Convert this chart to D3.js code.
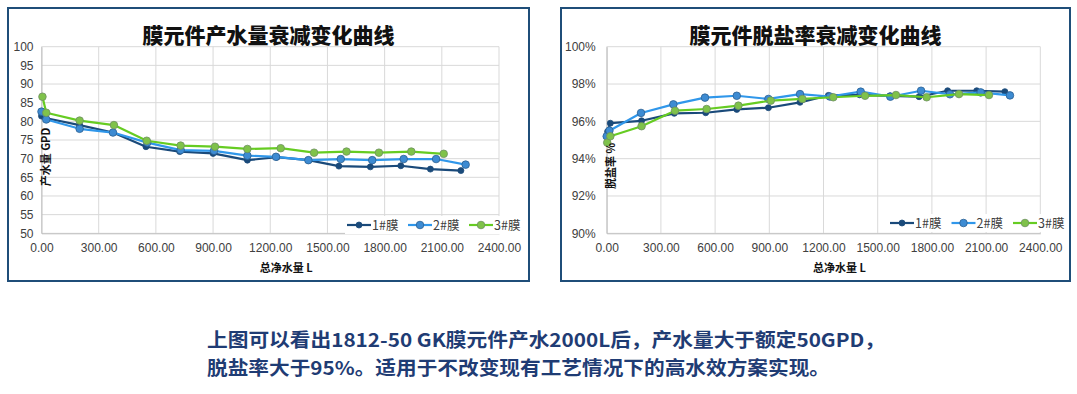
<!DOCTYPE html>
<html>
<head>
<meta charset="utf-8">
<script src="https://cdn.jsdelivr.net/npm/d3@7"></script>
<style>
body{margin:0;background:#fff;}
svg{display:block;}
</style>
</head>
<body>
<div id="chart"></div>
<script>
// 产水量 (GPD) - left chart
var flowX1 = [0, 20, 200, 375, 548, 725, 900, 1080, 1235, 1400, 1560, 1725, 1885, 2040, 2200];
var flowY1 = [81.4, 80.9, 79.0, 77.0, 73.2, 71.9, 71.4, 69.6, 70.4, 69.6, 68.0, 67.8, 68.1, 67.2, 66.8];
var flowX2 = [0, 25, 200, 375, 555, 730, 905, 1080, 1230, 1400, 1570, 1735, 1900, 2070, 2225];
var flowY2 = [82.6, 80.5, 78.0, 77.0, 74.3, 72.3, 72.1, 70.8, 70.5, 69.6, 69.9, 69.6, 69.9, 69.9, 68.4];
var flowX3 = [5, 25, 200, 380, 552, 730, 910, 1080, 1255, 1430, 1600, 1770, 1940, 2110];
var flowY3 = [86.6, 82.3, 80.2, 79.0, 74.8, 73.5, 73.2, 72.6, 72.8, 71.6, 71.9, 71.6, 71.9, 71.3];

// 脱盐率 (%) - right chart
var rejX1 = [5, 20, 193, 374, 548, 720, 895, 1070, 1227, 1400, 1568, 1729, 1887, 2048, 2204];
var rejY1 = [95.45, 95.9, 96.03, 96.43, 96.46, 96.64, 96.73, 97.02, 97.39, 97.42, 97.37, 97.32, 97.64, 97.64, 97.59];
var rejX2 = [0, 15, 190, 369, 544, 720, 895, 1070, 1235, 1406, 1570, 1740, 1900, 2070, 2232];
var rejY2 = [95.2, 95.5, 96.45, 96.91, 97.27, 97.37, 97.2, 97.46, 97.33, 97.59, 97.32, 97.64, 97.45, 97.55, 97.39];
var rejX3 = [3, 20, 193, 378, 553, 729, 908, 1083, 1254, 1430, 1601, 1771, 1950, 2116];
var rejY3 = [94.86, 95.2, 95.74, 96.57, 96.66, 96.84, 97.11, 97.2, 97.29, 97.37, 97.41, 97.29, 97.46, 97.41];

var seriesNames = ["1#膜", "2#膜", "3#膜"];
var xTicks = [0, 300, 600, 900, 1200, 1500, 1800, 2100, 2400];
var flowTicks = [50, 55, 60, 65, 70, 75, 80, 85, 90, 95, 100];
var rejTicks = [90, 92, 94, 96, 98, 100];

var caption1 = "上图可以看出1812-50 GK膜元件产水2000L后，产水量大于额定50GPD，";
var caption2 = "脱盐率大于95%。适用于不改变现有工艺情况下的高水效方案实现。";

var lineColors = ["#1a4a7a", "#3097ea", "#66cc22"];
var dotFill = ["#1a4a7a", "#3d8bd2", "#7fc24a"];
var dotStroke = ["#1a4a7a", "#2b5f92", "#6f8f62"];
var dotR = [3, 3.8, 3.8];

var W = 1077, H = 394;
var svg = d3.select("#chart").append("svg").attr("width", W).attr("height", H);
svg.append("rect").attr("width", W).attr("height", H).attr("fill", "#fff");

function zip(xs, ys){
    var out = [];
    for (var i = 0; i < xs.length; i++) out.push({x: xs[i], y: ys[i]});
    return out;
}

function drawChart(o){
    var g = svg.append("g");
    // outer frame
    g.append("rect").attr("x", o.box[0]).attr("y", o.box[1])
        .attr("width", o.box[2]).attr("height", o.box[3])
        .attr("fill", "#fff").attr("stroke", "#1f4e79").attr("stroke-width", 2);

    g.append("text").attr("x", o.box[0] + o.box[2] / 2).attr("y", 43)
        .attr("text-anchor", "middle")
        .style("font-family", "'Noto Sans CJK SC', sans-serif")
        .style("font-weight", "900").style("font-size", "21px").style("fill", "#111")
        .text(o.title);

    var x = d3.scaleLinear().domain([0, 2400]).range([o.plot[0], o.plot[1]]);
    var y = d3.scaleLinear().domain(o.yDomain).range([o.plot[3], o.plot[2]]);

    // gridlines
    g.selectAll(".hg").data(o.yTicks).enter().append("line")
        .attr("x1", o.plot[0]).attr("x2", o.plot[1])
        .attr("y1", function(d){ return y(d); }).attr("y2", function(d){ return y(d); })
        .attr("stroke", "#d9d9d9").attr("stroke-width", 1);
    g.selectAll(".vg").data(xTicks).enter().append("line")
        .attr("y1", o.plot[2]).attr("y2", o.plot[3])
        .attr("x1", function(d){ return x(d); }).attr("x2", function(d){ return x(d); })
        .attr("stroke", "#d9d9d9").attr("stroke-width", 1);

    var xAxis = g.append("g").attr("transform", "translate(0," + o.plot[3] + ")")
        .call(d3.axisBottom(x).tickValues(xTicks).tickSize(0).tickPadding(10)
            .tickFormat(function(d){ return d.toFixed(2); }));
    var yAxis = g.append("g").attr("transform", "translate(" + o.plot[0] + ",0)")
        .call(d3.axisLeft(y).tickValues(o.yTicks).tickSize(0).tickPadding(o.yPad).tickFormat(o.yFmt));
    [xAxis, yAxis].forEach(function(a){
        a.select(".domain").attr("stroke", "#bfbfbf");
        a.selectAll("text").style("font-family", "'Liberation Sans', Arial, sans-serif")
            .style("font-size", "12px").style("fill", "#404040");
    });

    var line = d3.line().x(function(d){ return x(d.x); }).y(function(d){ return y(d.y); });
    o.series.forEach(function(s, i){
        var pts = zip(s[0], s[1]);
        g.append("path").datum(pts).attr("d", line).attr("fill", "none")
            .attr("stroke", lineColors[i]).attr("stroke-width", 2.2).attr("stroke-linejoin", "round");
        g.selectAll(".dot" + i).data(pts).enter().append("circle")
            .attr("cx", function(d){ return x(d.x); }).attr("cy", function(d){ return y(d.y); })
            .attr("r", dotR[i]).attr("fill", dotFill[i]).attr("stroke", dotStroke[i]).attr("stroke-width", 0.8);
    });

    // axis titles
    g.append("text").attr("x", (o.plot[0] + o.plot[1]) / 2 + 16).attr("y", 272)
        .attr("text-anchor", "middle")
        .style("font-family", "'Noto Sans CJK SC', sans-serif").style("font-weight", "bold")
        .style("font-size", "11px").style("fill", "#111").text("总净水量 L");
    g.append("text").attr("transform", "translate(" + (o.plot[0] + 8) + "," + o.yTitleY + ") rotate(-90)")
        .attr("text-anchor", "middle")
        .style("font-family", "'Noto Sans CJK SC', sans-serif").style("font-weight", "bold")
        .style("font-size", "11px").style("fill", "#111").text(o.yTitle);

    // legend
    var lg = g.append("g").attr("transform", "translate(" + o.legend[0] + "," + o.legend[1] + ")");
    lg.append("rect").attr("x", -2).attr("y", -9).attr("width", o.legendStep * 3 - 8).attr("height", 18).attr("fill", "#fff");
    seriesNames.forEach(function(n, i){
        var lx = i * o.legendStep;
        lg.append("line").attr("x1", lx).attr("x2", lx + 24).attr("y1", 0).attr("y2", 0)
            .attr("stroke", lineColors[i]).attr("stroke-width", 2.2);
        lg.append("circle").attr("cx", lx + 12).attr("cy", 0).attr("r", dotR[i])
            .attr("fill", dotFill[i]).attr("stroke", dotStroke[i]).attr("stroke-width", 0.8);
        lg.append("text").attr("x", lx + 25).attr("y", 4.5)
            .style("font-family", "'Noto Sans CJK SC', sans-serif")
            .style("font-size", "12.5px").style("fill", "#404040").text(n);
    });
}

drawChart({
    box: [8, 8, 521, 273],
    title: "膜元件产水量衰减变化曲线",
    plot: [41.5, 499, 46.7, 233.3],
    yDomain: [50, 100], yTicks: flowTicks, yPad: 8,
    yFmt: function(d){ return d; },
    yTitle: "产水量 GPD", yTitleY: 157,
    legend: [347, 225], legendStep: 61,
    series: [[flowX1, flowY1], [flowX2, flowY2], [flowX3, flowY3]]
});

drawChart({
    box: [561, 8, 509, 273],
    title: "膜元件脱盐率衰减变化曲线",
    plot: [606.7, 1040.3, 46.7, 233.3],
    yDomain: [90, 100], yTicks: rejTicks, yPad: 11,
    yFmt: function(d){ return d + "%"; },
    yTitle: "脱盐率 %", yTitleY: 166,
    legend: [890, 223], legendStep: 61.5,
    series: [[rejX1, rejY1], [rejX2, rejY2], [rejX3, rejY3]]
});

// caption
var cap = svg.append("g")
    .style("font-family", "'Liberation Sans Narrow', 'Noto Sans CJK SC', sans-serif")
    .style("font-weight", "bold").style("font-size", "19px").style("fill", "#1f3c74");
cap.append("text").attr("x", 207).attr("y", 347).attr("textLength", 678).attr("lengthAdjust", "spacingAndGlyphs").text(caption1);
cap.append("text").attr("x", 207).attr("y", 375).attr("textLength", 623).attr("lengthAdjust", "spacingAndGlyphs").text(caption2);
</script>
</body>
</html>
